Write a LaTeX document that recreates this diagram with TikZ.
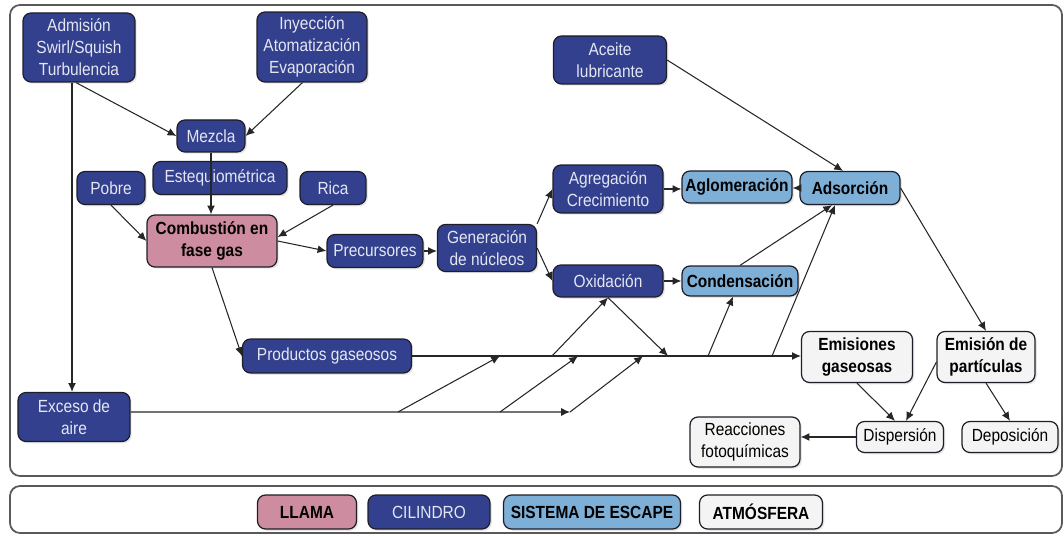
\documentclass[tikz,border=0pt]{standalone}
\usepackage{fontspec}
\newfontfamily\diafont[FakeStretch=0.88]{Liberation Sans}
\usepackage{tikz}
\usetikzlibrary{arrows.meta}
\usetikzlibrary{shadows}
\definecolor{cilblue}{RGB}{50,64,142}
\definecolor{cilfg}{RGB}{228,231,242}
\definecolor{llamapink}{RGB}{205,140,160}
\definecolor{escblue}{RGB}{125,175,215}
\definecolor{atmgray}{RGB}{244,244,244}
\definecolor{boxline}{RGB}{30,30,40}
\tikzstyle{box} = [draw=boxline, line width=0.7pt, rounded corners=0.16cm, align=center, inner sep=1pt, font={\diafont\fontsize{10}{12.5}\selectfont}, drop shadow={opacity=0.2, shadow xshift=1pt, shadow yshift=-1pt}]
\tikzstyle{cil} = [box, fill=cilblue, text=cilfg]
\tikzstyle{llama} = [box, fill=llamapink, font={\diafont\bfseries\fontsize{10}{12.5}\selectfont}]
\tikzstyle{esc} = [box, fill=escblue, font={\diafont\bfseries\fontsize{10}{12.5}\selectfont}]
\tikzstyle{atm} = [box, fill=atmgray]
\tikzstyle{atmb} = [atm, font={\diafont\bfseries\fontsize{10}{12.5}\selectfont}]
\tikzstyle{frame} = [draw=black!65, line width=1pt, rounded corners=0.2cm]
\tikzstyle{arrow} = [-{Latex[length=5pt,width=4.5pt]}, line width=0.6pt, draw=black!85]

\begin{document}
\begin{tikzpicture}[x=0.02cm, y=-0.02cm]
			\useasboundingbox (0,0) rectangle (1064,536);
			\draw[frame] (10,5) rectangle (1062,476);
			\draw[frame] (10,486) rectangle (1062,533);
			
			\node[cil, minimum width=2.24cm, minimum height=1.38cm](adm) at (79, 47.5){Admisión\\Swirl/Squish\\Turbulencia};
			\node[cil, minimum width=2.2cm, minimum height=1.4cm](iny) at (312, 47){Inyección\\Atomatización\\Evaporación};
			\node[cil, minimum width=2.26cm, minimum height=0.96cm](ace) at (610, 60){Aceite\\lubricante};
			\node[cil, minimum width=1.36cm, minimum height=0.64cm](mez) at (211, 136){Mezcla};
			\node[cil, minimum width=2.68cm, minimum height=0.66cm](est) at (220, 178){Estequiométrica};
			\node[cil, minimum width=1.36cm, minimum height=0.66cm](pob) at (111, 188){Pobre};
			\node[cil, minimum width=1.32cm, minimum height=0.66cm](ric) at (333, 188){Rica};
			\node[llama, minimum width=2.6cm, minimum height=1.04cm](comb) at (212, 241){Combustión en\\fase gas};
			\node[cil, minimum width=1.92cm, minimum height=0.66cm](pre) at (375, 251){Precursores};
			\node[cil, minimum width=1.98cm, minimum height=0.94cm](gen) at (487, 248){Generación\\de núcleos};
			\node[cil, minimum width=2.2cm, minimum height=0.96cm](agr) at (608, 189){Agregación\\Crecimiento};
			\node[cil, minimum width=2.2cm, minimum height=0.64cm](oxi) at (608, 281){Oxidación};
			\node[esc, minimum width=2.2cm, minimum height=0.64cm](agl) at (737, 187){Aglomeración};
			\node[esc, minimum width=2cm, minimum height=0.66cm](ads) at (850, 188){Adsorción};
			\node[esc, minimum width=2.32cm, minimum height=0.6cm](con) at (740, 281){Condensación};
			\node[cil, minimum width=3.38cm, minimum height=0.68cm](pro) at (327, 356){Productos gaseosos};
			\node[cil, minimum width=2.24cm, minimum height=0.98cm](exc) at (74, 417){Exceso de\\aire};
			\node[atmb, minimum width=2.22cm, minimum height=1.02cm](emg) at (857, 357){Emisiones\\gaseosas};
			\node[atmb, minimum width=1.96cm, minimum height=1.02cm](emp) at (986, 357){Emisión de\\partículas};
			\node[atm, minimum width=1.74cm, minimum height=0.62cm](dis) at (900, 437){Dispersión};
			\node[atm, minimum width=1.92cm, minimum height=0.62cm](dep) at (1010, 437){Deposición};
			\node[atm, minimum width=2.2cm, minimum height=1cm](rea) at (745, 442){Reacciones\\fotoquímicas};
			
			\coordinate (j1) at (552, 356);
			\coordinate (j2) at (668, 356);
			\coordinate (j3) at (708, 356);
			\coordinate (j4) at (772, 356);
			\coordinate (e1) at (398, 412);
			\coordinate (e2) at (500, 412);
			\coordinate (e3) at (570, 412);
			\coordinate (k1) at (500, 356);
			\coordinate (k2) at (578, 356);
			\coordinate (k3) at (643, 356);
			
			\draw[arrow] ([xshift=-0.06cm]adm.south) -- (mez.west);
			\draw[arrow] (iny.-105) -- (mez.east);
			\draw[arrow] ([xshift=-0.14cm]adm.south) -- ([xshift=-0.14cm]adm.south |- exc.north);
			\draw[arrow] (mez.south) -- (mez.south |- comb.north);
			\draw[arrow] (pob.south) -- (comb.west);
			\draw[arrow] (ric.south) -- ([yshift=0.08cm]comb.east);
			\draw[arrow] (comb.east) -- (pre.west);
			\draw[arrow] (comb.south) -- (pro.west);
			\draw[arrow] (pre.east) -- (pre.east -| gen.west);
			\draw[arrow] (gen.north east) -- (agr.west);
			\draw[arrow] (gen.east) -- (oxi.west);
			\draw[arrow] (agr.east) -- (agr.east -| agl.west);
			\draw[arrow] (ads.west) -- (ads.west -| agl.east);
			\draw[arrow] (ace.east) -- ([xshift=-0.14cm]ads.north);
			\draw[arrow] (oxi.east) -- (oxi.east -| con.west);
			\draw[arrow] (con.north) -- ([xshift=-0.36cm]ads.south);
			\draw[arrow] (ads.east) -- (emp.north);
			\draw[arrow] (pro.east) -- (pro.east -| emg.west);
			\draw[arrow] (j1) -- (oxi.south);
			\draw[arrow] (oxi.south) -- (j2);
			\draw[arrow] (j3) -- ([xshift=-0.14cm]con.south);
			\draw[arrow] (j4) -- ([xshift=-0.3cm]ads.south);
			\draw[arrow] ([yshift=0.1cm]exc.east) -- (e3);
			\draw[arrow] (e1) -- (k1);
			\draw[arrow] (e2) -- (k2);
			\draw[arrow] (e3) -- (k3);
			\draw[arrow] (emg.south) -- ([xshift=-0.1cm]dis.north);
			\draw[arrow] ([yshift=-0.1cm]emp.west) -- ([xshift=0.12cm]dis.north);
			\draw[arrow] (emp.south) -- (dep.north);
			\draw[arrow] (dis.west) -- (dis.west -| rea.east);
			
			\node[llama, minimum width=1.98cm, minimum height=0.68cm](lla) at (307, 512){LLAMA};
			\node[cil, minimum width=2.44cm, minimum height=0.68cm](cyl) at (429, 512){CILINDRO};
			\node[esc, minimum width=3.54cm, minimum height=0.68cm](sis) at (592, 512){SISTEMA DE ESCAPE};
			\node[atmb, minimum width=2.46cm, minimum height=0.68cm](atm) at (761, 512){ATMÓSFERA};
		\end{tikzpicture}
\end{document}
